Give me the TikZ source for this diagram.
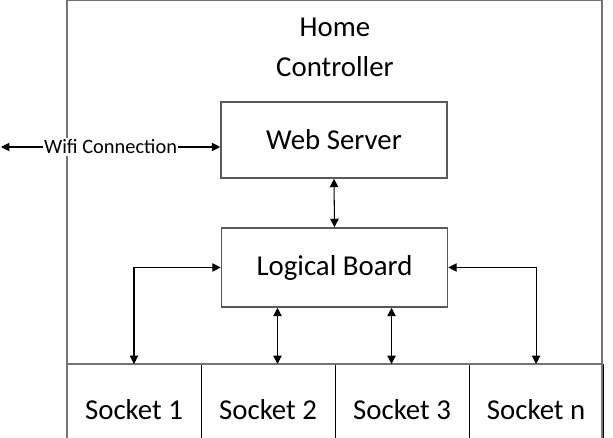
\documentclass[tikz,border=0pt]{standalone}
\usepackage{fontspec}
\setmainfont{Carlito}
\usepackage{tikz}
\usetikzlibrary{arrows.meta,positioning,calc}
\definecolor{framegray}{rgb}{0.45,0.45,0.45}
\definecolor{boxgray}{rgb}{0.35,0.35,0.35}

\begin{document}
\begin{tikzpicture}[x=0.025cm,y=-0.025cm,
  font=\fontsize{20.5}{28}\selectfont,
  blk/.style={draw=boxgray,line width=1.1pt,fill=white,minimum width=5.65cm,
              minimum height=1.9cm,align=center},
  sock/.style={draw=black,line width=0.6pt,minimum width=3.35cm,
               minimum height=2.3cm,inner sep=0pt,outer sep=0pt},
  link/.style={{Triangle[length=6pt,width=6pt]}-{Triangle[length=6pt,width=6pt]},
               line width=0.75pt}]
\useasboundingbox (0,0) rectangle (613,438);
\clip (0,0) rectangle (613,438);
\node[align=center] (title) at (335,47.5) {Home\\Controller};
\node[blk] (web) at (334,140) {Web Server};
\node[blk,minimum height=1.975cm] (logic) at (334.5,267.5) {Logical Board};
\node[sock] (s1) at (134,410) {Socket 1};
\node[sock,right=0pt of s1] (s2) {Socket 2};
\node[sock,right=0pt of s2] (s3) {Socket 3};
\node[sock,right=0pt of s3] (s4) {Socket n};
\draw[framegray,line width=1.2pt] (67,0.6) rectangle (602,460);
\draw[framegray,line width=1.6pt] (s1.north west) -- (s4.north east);
% links
\coordinate (wifi) at (1,147);
\draw[link] (wifi) -- node[fill=white,inner sep=1pt,font=\fontsize{14.5}{16}\selectfont]
  {Wifi Connection} (wifi -| web.west);
\draw[link] (web.south) -- (logic.north);
\draw[link] (logic.west) -| (s1.north);
\draw[link] (logic.east) -| (s4.north);
\draw[link] ([xshift=-1.425cm]logic.south) -- ([xshift=-1.425cm]logic.south |- s2.north);
\draw[link] ([xshift=1.425cm]logic.south) -- ([xshift=1.425cm]logic.south |- s3.north);
\end{tikzpicture}
\end{document}
